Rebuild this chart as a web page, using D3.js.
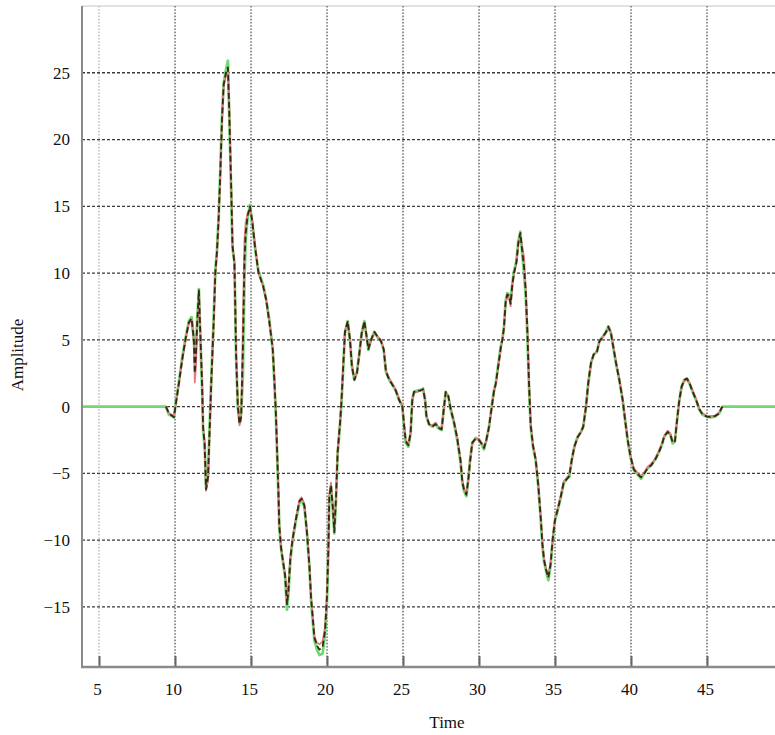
<!DOCTYPE html>
<html>
<head>
<meta charset="utf-8">
<script src="https://cdn.jsdelivr.net/npm/d3@7"></script>
<style>
  html, body { margin: 0; padding: 0; background: #fff; }
  svg { display: block; }
  text { font-family: "Liberation Serif", "Times New Roman", serif; fill: #111; }
</style>
</head>
<body>
<svg id="chart" width="775" height="735"></svg>
<script>
// ---------- data ----------
const xTicks = [5, 10, 15, 20, 25, 30, 35, 40, 45];
const yTicks = [-15, -10, -5, 0, 5, 10, 15, 20, 25];
const xLabel = "Time";
const yLabel = "Amplitude";

const time = [
  3.88, 9.4, 9.6, 9.93, 10.04, 10.26, 10.48, 10.7, 10.91, 11.09,
  11.24, 11.3, 11.38, 11.46, 11.57, 11.67, 11.78, 11.85, 11.95, 12.04,
  12.17, 12.26, 12.39, 12.54, 12.65, 12.76, 12.87, 12.98, 13.09, 13.2,
  13.35, 13.48, 13.57, 13.7, 13.78, 13.91, 13.96, 14.02, 14.13, 14.24,
  14.35, 14.46, 14.57, 14.65, 14.78, 14.93, 15.09, 15.26, 15.48, 15.8,
  16.0, 16.2, 16.43, 16.54, 16.64, 16.71, 16.8, 16.86, 16.97, 17.08,
  17.24, 17.37, 17.46, 17.59, 17.74, 17.96, 18.18, 18.33, 18.51, 18.68,
  18.84, 18.95, 19.06, 19.17, 19.34, 19.5, 19.71, 19.87, 20.0, 20.09,
  20.15, 20.26, 20.37, 20.48, 20.59, 20.7, 20.88, 20.96, 21.07, 21.18,
  21.36, 21.51, 21.64, 21.8, 21.97, 22.13, 22.28, 22.46, 22.57, 22.72,
  22.9, 23.11, 23.29, 23.55, 23.73, 23.88, 24.1, 24.32, 24.52, 24.74,
  24.96, 25.07, 25.18, 25.35, 25.5, 25.61, 25.72, 25.94, 26.16, 26.32,
  26.45, 26.54, 26.71, 26.93, 27.15, 27.32, 27.54, 27.7, 27.81, 27.98,
  28.14, 28.36, 28.57, 28.79, 28.9, 29.01, 29.17, 29.3, 29.41, 29.56,
  29.78, 30.0, 30.18, 30.33, 30.48, 30.66, 30.83, 30.99, 31.1, 31.25,
  31.43, 31.54, 31.64, 31.75, 31.86, 31.97, 32.08, 32.19, 32.3, 32.46,
  32.59, 32.72, 32.81, 32.96, 33.07, 33.18, 33.29, 33.4, 33.55, 33.73,
  33.9, 34.06, 34.17, 34.28, 34.43, 34.56, 34.71, 34.85, 35.0, 35.18,
  35.39, 35.57, 35.72, 35.94, 36.1, 36.27, 36.49, 36.71, 36.86, 37.04,
  37.19, 37.37, 37.54, 37.76, 37.92, 38.14, 38.36, 38.51, 38.68, 38.86,
  39.01, 39.23, 39.45, 39.61, 39.78, 39.96, 40.18, 40.39, 40.66, 40.88,
  41.1, 41.32, 41.58, 41.8, 42.02, 42.19, 42.41, 42.59, 42.74, 42.89,
  43.03, 43.18, 43.33, 43.51, 43.68, 43.84, 44.06, 44.28, 44.5, 44.71,
  45.0, 45.26, 45.53, 45.81, 45.96, 46.03, 49.5
];

const greenSeries = [
  0, 0, -0.6, -0.8, 0.2, 1.9, 3.7, 5.2, 6.4, 6.7,
  5.1, 3.4, 4.5, 6.5, 8.8, 5.1, 1.4, -1.8, -2.9, -6.1,
  -5.2, -2.1, 2.2, 6.5, 10.2, 11.7, 14.2, 17.7, 21.7, 24.2,
  25.2, 25.9, 21.7, 15.9, 11.9, 10.8, 7.4, 3.7, 0, -1.2,
  -0.5, 2.2, 9.7, 12.5, 14.2, 15.1, 13.7, 11.9, 10.2, 9.1,
  8.0, 6.5, 4.25, 1.75, -0.75, -3.25, -6.5, -9, -10.5, -11.5,
  -12.75, -15.2, -14, -11.5, -10, -8.5, -7.25, -7, -7.5, -9.5,
  -12, -14.5, -16, -17.5, -18.2, -18.6, -18.5, -17, -14.5, -10.75,
  -7, -6, -7.5, -9.5, -7, -3.5, -1, 0.5, 3, 5.5,
  6.4, 5, 3, 2, 2.6, 4, 5.5, 6.4, 5.5, 4.25,
  5, 5.6, 5.25, 4.9, 4.25, 2.6, 2, 1.6, 1.2, 0.5,
  0, -1.5, -2.7, -3, -2, 0.5, 1.1, 1.2, 1.25, 1.35,
  0.5, -0.75, -1.35, -1.5, -1.3, -1.6, -1.75, 0, 1.1, 0.75,
  -0.25, -1.25, -2.5, -4.2, -5.7, -6.3, -6.7, -5.4, -4, -2.7,
  -2.35, -2.5, -2.85, -3.2, -2.5, -1.5, 0, 1.25, 1.75, 3,
  4.5, 5.1, 5.9, 7.9, 8.5, 8.4, 7.9, 9.2, 10.1, 10.9,
  12.4, 13.1, 11.9, 10, 8.4, 5.4, 1.5, -1.5, -3, -4,
  -6, -8.4, -10.4, -11.6, -12.4, -13, -11.9, -10, -8.5, -7.75,
  -6.75, -5.75, -5.5, -5.25, -4, -3, -2.25, -1.9, -1.5, 0,
  1.75, 3.25, 3.9, 4.1, 4.9, 5.25, 5.6, 6, 5.5, 4.25,
  3.25, 2, 0.5, -1, -2.5, -3.75, -4.75, -5, -5.4, -5,
  -4.6, -4.4, -4, -3.5, -2.9, -2.25, -1.9, -2.1, -2.75, -2.6,
  -1, 0.5, 1.5, 2, 2.1, 1.75, 1.1, 0.5, -0.25, -0.6,
  -0.75, -0.8, -0.75, -0.5, -0.1, 0, 0
];

const redSeries = [
  null, 0, -0.5, -0.7, 0.1, 1.7, 3.5, 5.0, 6.2, 6.5,
  4.8, 1.8, 3.0, 6.0, 8.6, 5.5, 2.0, -1.5, -2.6, -6.3,
  -5.5, -2.5, 1.8, 6.0, 9.8, 11.5, 14.0, 17.4, 21.3, 24.0,
  24.8, 25.0, 22.5, 16.5, 12.4, 10.6, 8.0, 4.0, 0.3, -1.4,
  -1.0, 6.0, 12.5, 13.8, 14.5, 14.8, 13.9, 12.2, 10.0, 9.0,
  7.9, 6.4, 4.4, 2.0, -0.5, -3.0, -6.2, -8.8, -10.6, -11.3,
  -12.5, -14.5, -13.5, -11.2, -9.8, -8.3, -7.0, -6.8, -7.3, -9.3,
  -11.8, -14.2, -15.7, -17.2, -17.7, -17.8, -17.6, -16.5, -14.0, -10.5,
  -6.5, -5.7, -7.3, -9.2, -6.8, -3.3, -0.8, 0.7, 3.2, 5.7,
  6.3, 5.1, 3.1, 2.1, 2.5, 3.9, 5.4, 6.3, 5.6, 4.4,
  4.9, 5.5, 5.3, 5.0, 4.3, 2.7, 2.1, 1.7, 1.3, 0.6,
  0.1, -1.3, -2.5, -2.8, -1.9, 0.4, 1.0, 1.1, 1.2, 1.3,
  0.6, -0.6, -1.3, -1.4, -1.2, -1.5, -1.6, -0.1, 1.0, 0.8,
  -0.1, -1.1, -2.3, -4.0, -5.5, -6.1, -6.5, -5.5, -4.2, -2.8,
  -2.4, -2.4, -2.7, -3.0, -2.6, -1.6, -0.2, 1.1, 1.6, 2.8,
  4.3, 5.0, 5.8, 7.7, 8.3, 8.2, 7.5, 9.0, 9.9, 10.7,
  12.2, 12.8, 12.2, 11.2, 9.0, 6.0, 2.0, -1.2, -2.8, -3.9,
  -5.8, -8.2, -10.2, -11.4, -12.2, -12.6, -11.7, -9.8, -8.4, -7.6,
  -6.6, -5.6, -5.4, -5.1, -4.1, -3.1, -2.3, -1.9, -1.4, 0.1,
  1.8, 3.3, 3.8, 4.2, 4.8, 5.2, 5.5, 5.9, 5.6, 4.4,
  3.4, 2.1, 0.6, -0.9, -2.4, -3.6, -4.6, -4.9, -5.2, -4.9,
  -4.5, -4.3, -3.9, -3.4, -2.8, -2.2, -1.8, -2.0, -2.6, -2.5,
  -1.1, 0.4, 1.4, 1.9, 2.0, 1.8, 1.2, 0.6, -0.2, -0.5,
  -0.7, -0.7, -0.7, -0.4, -0.1, 0, null
];

const blackSeries = [
  null, 0, -0.5, -0.8, 0.1, 1.8, 3.6, 5.1, 6.3, 6.6,
  5.0, 2.5, 4.0, 6.3, 8.7, 5.3, 1.7, -1.6, -2.8, -6.2,
  -5.3, -2.3, 2.0, 6.2, 10.0, 11.6, 14.1, 17.5, 21.5, 24.1,
  25.0, 25.4, 22.0, 16.2, 12.1, 10.7, 7.7, 3.8, 0.1, -1.3,
  -0.8, 4.0, 11.0, 13.0, 14.3, 15.0, 13.8, 12.0, 10.1, 9.0,
  8.0, 6.4, 4.3, 1.9, -0.6, -3.1, -6.3, -8.9, -10.5, -11.4,
  -12.6, -14.8, -13.8, -11.3, -9.9, -8.4, -7.1, -6.9, -7.4, -9.4,
  -11.9, -14.3, -15.8, -17.3, -17.9, -18.2, -18.0, -16.8, -14.2, -10.6,
  -6.8, -5.9, -7.4, -9.4, -6.9, -3.4, -0.9, 0.6, 3.1, 5.6,
  6.4, 5.0, 3.0, 2.0, 2.5, 4.0, 5.5, 6.4, 5.5, 4.3,
  5.0, 5.6, 5.3, 4.9, 4.3, 2.6, 2.0, 1.6, 1.2, 0.5,
  0, -1.4, -2.6, -2.9, -2.0, 0.5, 1.1, 1.2, 1.2, 1.3,
  0.5, -0.7, -1.3, -1.5, -1.3, -1.6, -1.7, 0, 1.1, 0.8,
  -0.2, -1.2, -2.4, -4.1, -5.6, -6.2, -6.6, -5.4, -4.1, -2.7,
  -2.4, -2.5, -2.8, -3.1, -2.5, -1.5, -0.1, 1.2, 1.7, 2.9,
  4.4, 5.0, 5.9, 7.8, 8.4, 8.3, 7.7, 9.1, 10.0, 10.8,
  12.3, 13.0, 12.0, 10.5, 8.7, 5.7, 1.7, -1.4, -2.9, -4.0,
  -5.9, -8.3, -10.3, -11.5, -12.3, -12.8, -11.8, -9.9, -8.5, -7.7,
  -6.7, -5.7, -5.5, -5.2, -4.0, -3.0, -2.3, -1.9, -1.5, 0,
  1.8, 3.3, 3.9, 4.1, 4.9, 5.2, 5.6, 6.0, 5.5, 4.3,
  3.3, 2.0, 0.5, -1.0, -2.5, -3.7, -4.7, -5.0, -5.3, -5.0,
  -4.6, -4.4, -4.0, -3.5, -2.9, -2.2, -1.9, -2.1, -2.7, -2.6,
  -1.0, 0.5, 1.5, 2.0, 2.1, 1.8, 1.1, 0.5, -0.2, -0.6,
  -0.75, -0.8, -0.7, -0.5, -0.1, 0, null
];

// ---------- layout ----------
const W = 775, H = 735;
const mLeft = 82, mTop = 6, mRight = 775.4, mBottom = 667;

const x = d3.scaleLinear().domain([3.88, 49.5]).range([mLeft, mRight]);
const y = d3.scaleLinear().domain([-19.5, 30]).range([mBottom, mTop]);

const svg = d3.select("#chart");
svg.append("rect").attr("width", W).attr("height", H).attr("fill", "#fff");

svg.append("defs").append("clipPath").attr("id", "clip")
  .append("rect").attr("x", mLeft).attr("y", mTop)
  .attr("width", mRight - mLeft).attr("height", mBottom - mTop);

const plot = svg.append("g");

// top border
plot.append("line").attr("x1", mLeft).attr("x2", W).attr("y1", mTop).attr("y2", mTop)
  .attr("stroke", "#d8d8d8").attr("stroke-width", 1.5);

// vertical grid (dotted)
plot.append("g").selectAll("line").data(xTicks).join("line")
  .attr("x1", d => x(d)).attr("x2", d => x(d))
  .attr("y1", mTop).attr("y2", mBottom)
  .attr("stroke", (d, i) => i === 0 ? "#c4c4c4" : "#7a7a7a")
  .attr("stroke-width", 1.6)
  .attr("stroke-dasharray", "1.6,1.6");

// horizontal grid (dashed)
plot.append("g").selectAll("line").data(yTicks).join("line")
  .attr("x1", mLeft).attr("x2", W)
  .attr("y1", d => y(d)).attr("y2", d => y(d))
  .attr("stroke", "#3a3a3a")
  .attr("stroke-width", 1.3)
  .attr("stroke-dasharray", "3,2");

// series
const pts = (vals) => time.map((t, i) => [t, vals[i]]);
const line = d3.line()
  .defined(d => d[1] !== null)
  .x(d => x(d[0])).y(d => y(d[1]));

const lines = plot.append("g").attr("clip-path", "url(#clip)");
lines.append("path").datum(pts(greenSeries)).attr("d", line)
  .attr("fill", "none").attr("stroke", "#72d872").attr("stroke-width", 2.8)
  .attr("stroke-linejoin", "round");
lines.append("path").datum(pts(redSeries)).attr("d", line)
  .attr("fill", "none").attr("stroke", "#e07e7e").attr("stroke-width", 1.8)
  .attr("stroke-linejoin", "round");
lines.append("path").datum(pts(blackSeries)).attr("d", line)
  .attr("fill", "none").attr("stroke", "#2e2a14").attr("stroke-width", 1.8)
  .attr("stroke-dasharray", "6,3").attr("stroke-linejoin", "round");

// axes
const xAxis = d3.axisBottom(x).tickValues(xTicks).tickSize(-11).tickPadding(16);
const gx = svg.append("g").attr("transform", `translate(0,${mBottom})`).call(xAxis);
gx.select(".domain").remove();
gx.selectAll(".tick line").attr("stroke", "#666").attr("stroke-width", 2);
gx.selectAll(".tick text").attr("font-size", 17).attr("fill", "#111")
  .attr("font-family", "Liberation Serif, Times New Roman, serif").attr("dx", -2);

const yAxis = d3.axisLeft(y).tickValues(yTicks).tickSize(0).tickPadding(12);
const gy = svg.append("g").attr("transform", `translate(${mLeft},0)`).call(yAxis);
gy.select(".domain").remove();
gy.selectAll(".tick text").attr("font-size", 17).attr("fill", "#111")
  .attr("font-family", "Liberation Serif, Times New Roman, serif");

// axis frame lines
svg.append("line").attr("x1", mLeft).attr("x2", mLeft).attr("y1", mTop).attr("y2", mBottom + 1)
  .attr("stroke", "#8a8a8a").attr("stroke-width", 2);
svg.append("line").attr("x1", mLeft - 1).attr("x2", W).attr("y1", mBottom).attr("y2", mBottom)
  .attr("stroke", "#8a8a8a").attr("stroke-width", 2.4);

// axis titles
svg.append("text").attr("x", 447).attr("y", 728).attr("text-anchor", "middle")
  .attr("font-size", 17).text(xLabel);
svg.append("text").attr("transform", "translate(23,355) rotate(-90)")
  .attr("text-anchor", "middle").attr("font-size", 17).text(yLabel);
</script>
</body>
</html>
